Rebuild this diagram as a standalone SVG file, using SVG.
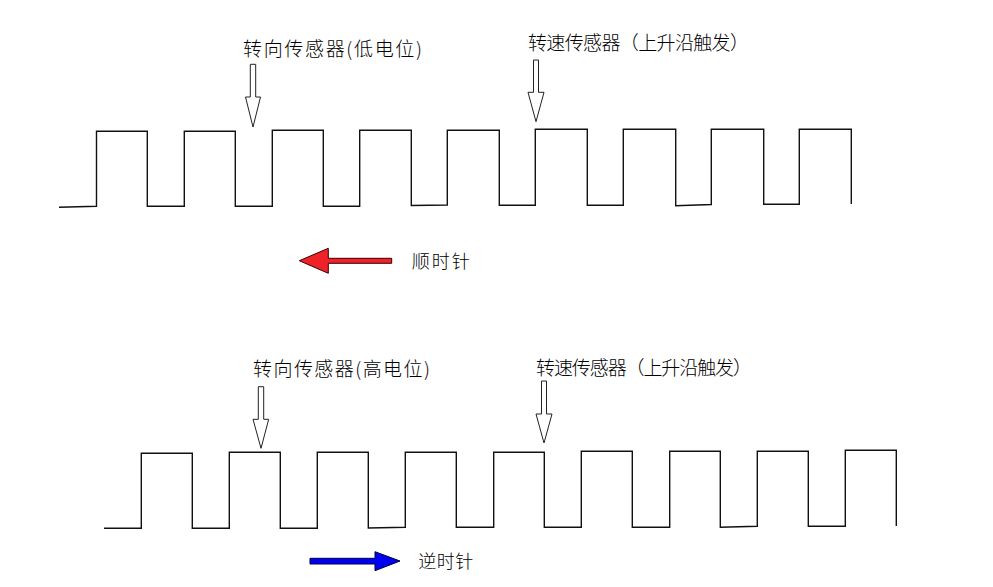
<svg xmlns="http://www.w3.org/2000/svg" width="993" height="587" viewBox="0 0 993 587">
<style>
.wave{fill:none;stroke:#111;stroke-width:1.4;stroke-linejoin:miter}
.hollow{fill:#fff;stroke:#222;stroke-width:1}
.lbl{font-family:"Noto Sans CJK SC","Noto Sans",sans-serif;font-size:19px;font-weight:300;fill:#000}
.dir{font-family:"Noto Sans CJK SC","Noto Sans",sans-serif;font-size:18px;font-weight:300;fill:#000}
</style>
<rect width="993" height="587" fill="#fff"/>
<g id="wave-top">
<polyline class="wave" points="59,207.3 96.5,206.3 96.5,131.3 147.3,131.3 147.3,206.3 184.3,206.3 184.3,131.3 235.3,131.3 235.3,206.3 272.3,206.3 272.3,130.3 323.3,130.3 323.3,206.3 359.7,206.3 359.7,130.3 411.3,130.3 411.3,205.5 447.3,205 447.3,130.3 499.3,130.3 499.3,205.3 535.3,205.3 535.3,129.3 587.3,129.3 587.3,205.3 623.3,205.3 623.3,129.3 675.7,129.3 675.7,205.7 711.3,204.5 711.3,129.3 763.7,129.3 763.7,204.3 799.3,204.3 799.3,129.3 851.3,129.3 851.3,204"/>
</g>
<g id="wave-bottom">
<polyline class="wave" points="104,528.3 141.3,528.3 141.3,453.3 192.3,453.3 192.3,528.3 229.3,528.3 229.3,452.3 280.3,452.3 280.3,528.3 317.3,528.3 317.3,452.3 368.3,452.3 368.3,528 405.3,527.3 405.3,452.3 456.3,452.3 456.3,527.3 493.7,527.3 493.7,452.3 544.3,452.3 544.3,527.3 581.3,527.3 581.3,451.3 632.3,451.3 632.3,527.3 669.7,527.3 669.7,451.3 720.3,451.3 720.3,527.3 757.3,526.3 757.3,451.3 808.3,451.3 808.3,526.3 845.3,526.3 845.3,450.3 896.3,450.3 896.3,526"/>
</g>
<g id="connectors">
<path class="hollow" d="M250.3,64.3 H255.7 V97 H260.5 L253,127 L245.5,97 H250.3 Z"/>
<path class="hollow" d="M533.5,60 H538.5 V92.3 H544 L536,121.7 L528,92.3 H533.5 Z"/>
<path class="hollow" d="M258.3,386.7 H263.7 V419.3 H268.7 L261,448.3 L253,419.3 H258.3 Z"/>
<path class="hollow" d="M541.5,381 H546.5 V414 H552 L544,443 L536,414 H541.5 Z"/>
</g>
<g id="label-dir-low">
<text class="lbl" x="243" y="56" textLength="179" lengthAdjust="spacing">转向传感器(低电位)</text>
</g>
<g id="label-speed-top">
<text class="lbl" x="528" y="50" textLength="221" lengthAdjust="spacing">转速传感器（上升沿触发）</text>
</g>
<g id="label-dir-high">
<text class="lbl" x="253" y="376" textLength="177" lengthAdjust="spacing">转向传感器(高电位)</text>
</g>
<g id="label-speed-bottom">
<text class="lbl" x="536" y="375" textLength="216" lengthAdjust="spacing">转速传感器（上升沿触发）</text>
</g>
<g id="arrow-cw">
<polygon points="299.3,260.7 328.3,248.3 328.3,258.3 391.7,258.3 391.7,263.3 328.3,263.3 328.3,273.3" fill="#EE2228" stroke="#3a0000" stroke-width="1"/>
<text class="dir" x="411.7" y="268" textLength="58" lengthAdjust="spacing">顺时针</text>
</g>
<g id="arrow-ccw">
<polygon points="310,558.3 375,558.3 375,551.7 400,561 375,570.7 375,564 310,564" fill="#0000F0" stroke="#000040" stroke-width="1"/>
<text class="dir" x="418.3" y="568" textLength="55" lengthAdjust="spacing">逆时针</text>
</g>
</svg>
